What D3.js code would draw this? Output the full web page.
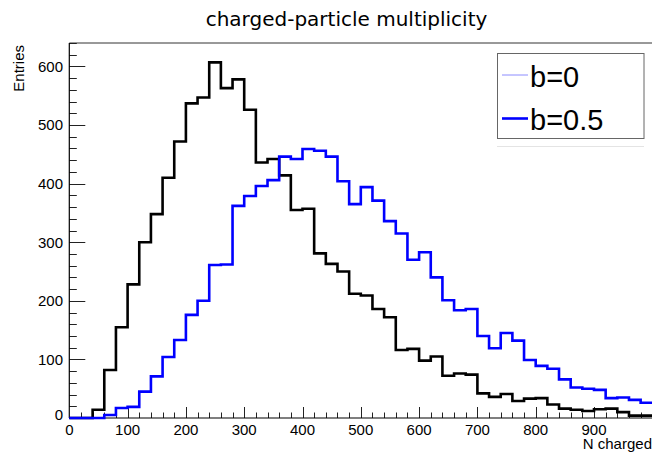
<!DOCTYPE html>
<html>
<head>
	<meta charset="UTF-8">
	<title>charged-particle multiplicity</title>
	<script src="https://d3js.org/d3.v7.min.js"></script>
	<style>
		body { margin: 0; background: #fff; }
		text { font-family: "Liberation Sans", Arial, sans-serif; fill: #000; }
		.title { font-family: "DejaVu Sans", sans-serif; }
	</style>
</head>
<body>
	<script>
		// bin lower edges go 0,20,40,...,980 (50 bins of width 20)
		var binWidth = 20;
		var nBins = 50;

		// b=0 (drawn black in the original)
		var countsB0 = [0, 0, 14, 82, 155, 228, 300, 348, 410, 472,
			537, 547, 607, 563, 578, 526, 436, 442, 414, 355,
			357, 281, 263, 250, 212, 209, 186, 172, 116, 118,
			98, 105, 72, 76, 74, 42, 36, 41, 29, 33,
			34, 23, 16, 14, 12, 15, 16, 10, 4, 4];

		// b=0.5
		var countsB05 = [0, 0, 0, 5, 17, 19, 45, 71, 104, 133,
			176, 200, 261, 262, 362, 379, 396, 406, 446, 442,
			459, 456, 446, 404, 365, 394, 371, 336, 315, 270,
			283, 240, 201, 184, 186, 140, 119, 145, 132, 99,
			89, 84, 66, 52, 50, 48, 34, 35, 31, 26];

		var xTicks = [0, 100, 200, 300, 400, 500, 600, 700, 800, 900];
		var yTicks = [0, 100, 200, 300, 400, 500, 600];
		var legendLabels = ["b=0", "b=0.5"];

		var width = 652, height = 453;
		var svg = d3.select("body").append("svg")
			.attr("width", width)
			.attr("height", height);

		var x = d3.scaleLinear().domain([0, 1000]).range([69.3, 652.3]);
		var y = d3.scaleLinear().domain([0, 640]).range([418, 43]);

		// frame
		svg.append("line")
			.attr("x1", x(0)).attr("x2", x(1000))
			.attr("y1", y(640)).attr("y2", y(640))
			.attr("stroke", "#333").attr("stroke-width", 1);

		// y axis with minor ticks every 20
		var yMinor = d3.range(0, 641, 20);
		svg.selectAll(".ytick")
			.data(yMinor)
			.enter().append("line")
			.attr("x1", x(0))
			.attr("x2", function(d) { return x(0) + (d % 100 === 0 ? 16 : 7.5); })
			.attr("y1", function(d) { return Math.round(y(d)) + 0.5; })
			.attr("y2", function(d) { return Math.round(y(d)) + 0.5; })
			.attr("stroke", "#222").attr("stroke-width", 1);
		svg.append("line")
			.attr("x1", x(0)).attr("x2", x(0))
			.attr("y1", y(0)).attr("y2", y(640))
			.attr("stroke", "#000").attr("stroke-width", 1.2);
		svg.selectAll(".ylab")
			.data(yTicks)
			.enter().append("text")
			.attr("x", 63)
			.attr("y", function(d) { return y(d); })
			.attr("dy", function(d) { return d === 0 ? "0.1em" : "0.36em"; })
			.attr("text-anchor", "end")
			.style("font-size", "15px")
			.text(function(d) { return d; });

		// x axis with minor ticks every 20
		var xMinor = d3.range(0, 1001, 20);
		svg.selectAll(".xtick")
			.data(xMinor)
			.enter().append("line")
			.attr("x1", function(d) { return Math.round(x(d)) + 0.5; })
			.attr("x2", function(d) { return Math.round(x(d)) + 0.5; })
			.attr("y1", y(0))
			.attr("y2", function(d) { return y(0) - (d % 100 === 0 ? 11 : 5.5); })
			.attr("stroke", "#222").attr("stroke-width", 1);
		svg.append("line")
			.attr("x1", x(0)).attr("x2", x(1000))
			.attr("y1", y(0)).attr("y2", y(0))
			.attr("stroke", "#000").attr("stroke-width", 1.2);
		svg.selectAll(".xlab")
			.data(xTicks)
			.enter().append("text")
			.attr("x", function(d) { return x(d); })
			.attr("y", 435)
			.attr("text-anchor", "middle")
			.style("font-size", "15px")
			.text(function(d) { return d; });

		// axis titles
		svg.append("text")
			.attr("x", 652).attr("y", 449)
			.attr("text-anchor", "end")
			.style("font-size", "15px")
			.text("N charged");
		svg.append("text")
			.attr("transform", "translate(24,45) rotate(-90)")
			.attr("text-anchor", "end")
			.style("font-size", "15px")
			.text("Entries");

		// histograms as step lines
		function stepPath(counts) {
			var p = d3.path();
			p.moveTo(x(0), y(0));
			counts.forEach(function(c, i) {
				p.lineTo(x(i * binWidth), y(c));
				p.lineTo(x((i + 1) * binWidth), y(c));
			});
			return p.toString();
		}

		svg.append("path")
			.attr("d", stepPath(countsB0))
			.attr("fill", "none")
			.attr("stroke", "#000")
			.attr("stroke-width", 2.6);

		svg.append("path")
			.attr("d", stepPath(countsB05))
			.attr("fill", "none")
			.attr("stroke", "#0000ff")
			.attr("stroke-width", 2.6);

		// legend
		var lg = svg.append("g");
		lg.append("line")
			.attr("x1", 497).attr("x2", 644)
			.attr("y1", 146.5).attr("y2", 146.5)
			.attr("stroke", "#e4e4e4");
		lg.append("rect")
			.attr("x", 497.5).attr("y", 53.5)
			.attr("width", 146.5).attr("height", 85)
			.attr("fill", "#fff")
			.attr("stroke", "#666").attr("stroke-width", 1);
		var legendColors = ["#8c8cff", "#0000ff"];
		var legendWidths = [1, 2.6];
		var legendY = [75, 118.5];
		legendLabels.forEach(function(lab, i) {
			lg.append("line")
				.attr("x1", 502).attr("x2", 528)
				.attr("y1", legendY[i]).attr("y2", legendY[i])
				.attr("stroke", legendColors[i])
				.attr("stroke-width", legendWidths[i]);
			lg.append("text")
				.attr("x", 530)
				.attr("y", legendY[i] + 11.5)
				.style("font-size", "29px")
				.text(lab);
		});

		// title
		svg.append("text")
			.attr("class", "title")
			.attr("x", 346.5).attr("y", 26)
			.attr("text-anchor", "middle")
			.style("font-size", "20px")
			.text("charged-particle multiplicity");
	</script>
</body>
</html>
